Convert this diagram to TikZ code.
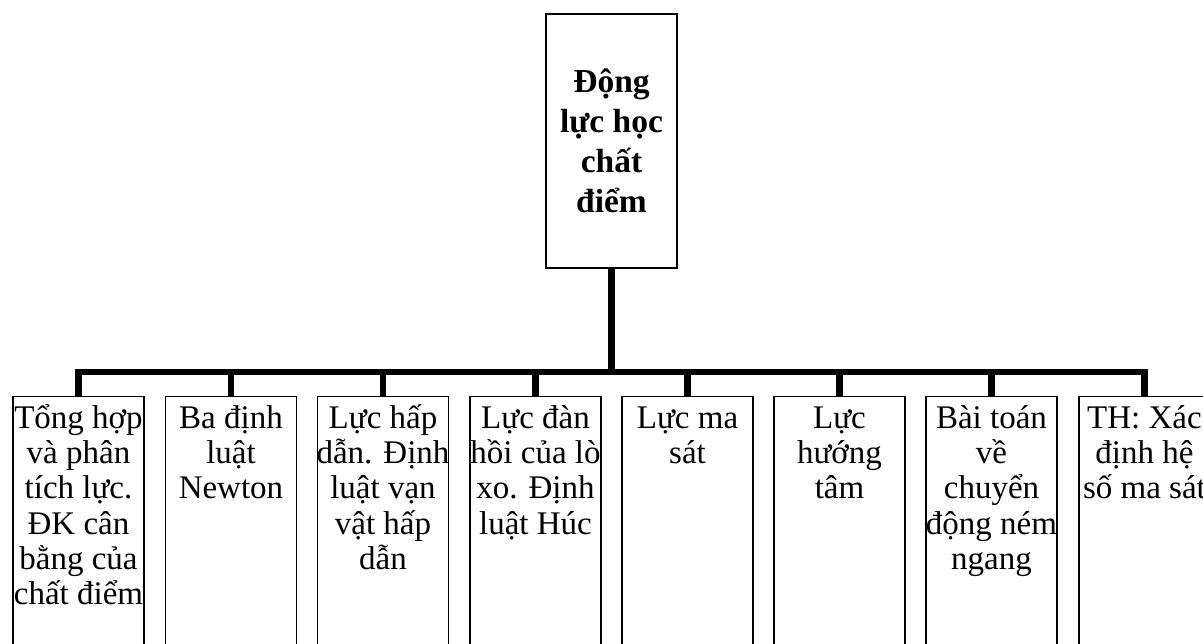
\documentclass[tikz,border=0pt]{standalone}
\usepackage{fontspec}
\setmainfont{Liberation Serif}
\newcommand{\tstrut}{\rule{0pt}{30pt}}
\begin{document}
\begin{tikzpicture}[x=1pt,y=1pt,
  box/.style={draw,line width=1.5pt,minimum width=131pt,minimum height=258pt,anchor=north,inner sep=0pt},
  rootbox/.style={draw,line width=1.5pt,minimum width=131pt,minimum height=254pt,align=center,inner sep=0pt,
    font=\bfseries\fontsize{33.5}{40}\selectfont},
  lbl/.style={align=center,anchor=north,yshift=-2pt,inner sep=0pt,font=\fontsize{33}{35.3}\selectfont},
  conn/.style={line width=6.5pt,line join=miter}]
\useasboundingbox (0,0) rectangle (1203,-644);
\clip (0,0) rectangle (1203,-644);
\node[rootbox] (root) at (611.5,-141) {Động\\lực học\\chất\\điểm};
\node[box] (b1) at (78.5,-396) {};
\node[box] (b2) at (231,-396) {};
\node[box] (b3) at (383,-396) {};
\node[box] (b4) at (535.5,-396) {};
\node[box] (b5) at (687.5,-396) {};
\node[box] (b6) at (839.5,-396) {};
\node[box] (b7) at (991.5,-396) {};
\node[box] (b8) at (1144.5,-396) {};
\node[lbl] (t1) at (b1.north) {\tstrut Tổng hợp\\và phân\\tích lực.\\ĐK cân\\bằng của\\chất điểm};
\node[lbl] (t2) at (b2.north) {\tstrut Ba định\\luật\\Newton};
\node[lbl] (t3) at (b3.north) {\tstrut Lực hấp\\dẫn. Định\\luật vạn\\vật hấp\\dẫn};
\node[lbl] (t4) at (b4.north) {\tstrut Lực đàn\\hồi của lò\\xo. Định\\luật Húc};
\node[lbl] (t5) at (b5.north) {\tstrut Lực ma\\sát};
\node[lbl] (t6) at (b6.north) {\tstrut Lực\\hướng\\tâm};
\node[lbl] (t7) at (b7.north) {\tstrut Bài toán\\về\\chuyển\\động ném\\ngang};
\node[lbl] (t8) at (b8.north) {\tstrut TH: Xác\\định hệ\\số ma sát};
\coordinate (j) at (611.5,-372);
\draw[conn] (root.south) -- (j);
\draw[conn] (b1.north) -- (b1.north |- j) -- (b8.north |- j) -- (b8.north);
\foreach \k in {2,...,7} {\draw[conn] (b\k.north |- j) -- (b\k.north);}
\end{tikzpicture}
\end{document}
